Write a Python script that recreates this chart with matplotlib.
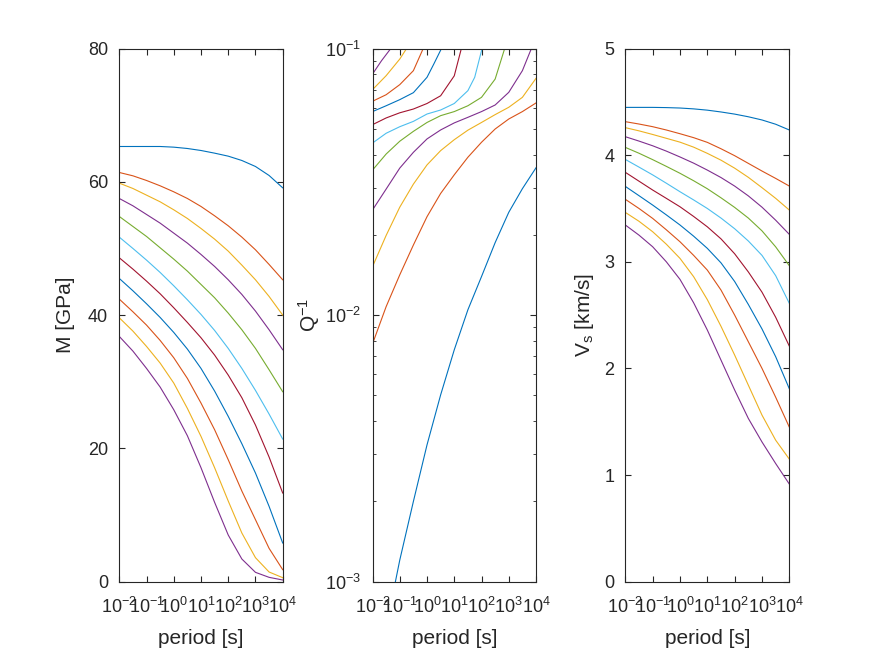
import numpy as np
import matplotlib
matplotlib.use("Agg")
import matplotlib.pyplot as plt

plt.rcParams["font.family"] = ["Liberation Sans", "DejaVu Sans"]
plt.rcParams["mathtext.fontset"] = "custom"
plt.rcParams["mathtext.rm"] = "Liberation Sans"
plt.rcParams["mathtext.it"] = "Liberation Sans:italic"
plt.rcParams["mathtext.bf"] = "Liberation Sans:bold"
plt.rcParams["mathtext.default"] = "regular"
plt.rcParams["axes.unicode_minus"] = False

# log10 of the period [s] at which the M and Vs curves were read
LOG_PERIOD = [-2.0, -1.5, -1.0, -0.5, 0.0, 0.5, 1.0, 1.5, 2.0, 2.5, 3.0, 3.5, 4.0]

# modulus [GPa], one row per curve (top to bottom)
MODULUS_GPA = [
    [65.3, 65.3, 65.3, 65.3, 65.2, 65.0, 64.7, 64.3, 63.85, 63.2, 62.3, 60.95, 59.1],
    [61.4, 60.9, 60.2, 59.4, 58.5, 57.5, 56.3, 54.9, 53.4, 51.7, 49.8, 47.6, 45.3],
    [59.8, 59.0, 58.0, 57.0, 55.8, 54.5, 53.0, 51.4, 49.6, 47.5, 45.3, 42.8, 40.0],
    [57.5, 56.4, 55.1, 53.8, 52.3, 50.8, 49.1, 47.3, 45.3, 43.1, 40.6, 37.8, 34.8],
    [54.8, 53.3, 51.8, 50.1, 48.4, 46.6, 44.6, 42.6, 40.3, 37.8, 35.0, 31.8, 28.5],
    [51.7, 50.0, 48.25, 46.4, 44.4, 42.3, 40.1, 37.7, 35.0, 32.0, 28.7, 25.15, 21.4],
    [48.6, 46.9, 45.1, 43.2, 41.1, 38.9, 36.6, 34.0, 31.0, 27.6, 23.5, 18.7, 13.3],
    [45.5, 43.65, 41.7, 39.65, 37.4, 34.9, 32.0, 28.6, 24.8, 20.7, 16.3, 11.3, 5.8],
    [42.4, 40.5, 38.5, 36.2, 33.6, 30.5, 26.8, 22.8, 18.3, 13.6, 9.3, 5.0, 1.8],
    [39.6, 37.6, 35.3, 32.8, 29.8, 26.0, 21.8, 17.1, 12.1, 7.3, 3.6, 1.45, 0.6],
    [36.8, 34.6, 32.0, 29.2, 25.8, 21.9, 17.1, 11.9, 7.0, 3.4, 1.4, 0.65, 0.25],
]

# shear velocity [km/s], same rows
VS_KMS = [
    [4.448, 4.448, 4.448, 4.446, 4.442, 4.434, 4.422, 4.405, 4.385, 4.36, 4.33, 4.29, 4.236],
    [4.314, 4.292, 4.267, 4.236, 4.201, 4.164, 4.12, 4.06, 3.995, 3.923, 3.851, 3.782, 3.71],
    [4.258, 4.228, 4.194, 4.158, 4.122, 4.075, 4.017, 3.953, 3.878, 3.792, 3.695, 3.595, 3.485],
    [4.173, 4.132, 4.088, 4.038, 3.983, 3.925, 3.86, 3.79, 3.71, 3.618, 3.512, 3.39, 3.257],
    [4.073, 4.018, 3.958, 3.895, 3.83, 3.76, 3.685, 3.6, 3.51, 3.41, 3.29, 3.14, 2.963],
    [3.96, 3.888, 3.815, 3.737, 3.657, 3.58, 3.5, 3.41, 3.31, 3.195, 3.06, 2.87, 2.61],
    [3.839, 3.756, 3.673, 3.595, 3.516, 3.425, 3.328, 3.215, 3.075, 2.905, 2.715, 2.48, 2.209],
    [3.707, 3.62, 3.532, 3.44, 3.345, 3.24, 3.126, 2.99, 2.815, 2.6, 2.37, 2.11, 1.809],
    [3.586, 3.50, 3.407, 3.30, 3.188, 3.06, 2.922, 2.735, 2.50, 2.25, 2.0, 1.73, 1.449],
    [3.463, 3.38, 3.282, 3.165, 3.032, 2.86, 2.645, 2.395, 2.125, 1.843, 1.562, 1.327, 1.149],
    [3.345, 3.25, 3.141, 3.0, 2.835, 2.615, 2.36, 2.078, 1.797, 1.531, 1.31, 1.108, 0.915],
]

# attenuation: each curve read up to where it leaves the axes
Q_LOG_PERIOD = [
    [-1.16, -1.0, -0.5, 0.0, 0.5, 1.0, 1.5, 2.0, 2.5, 3.0, 3.5, 4.0],
    [-2.0, -1.5, -1.0, -0.5, 0.0, 0.5, 1.0, 1.5, 2.0, 2.5, 3.0, 3.5, 4.0],
    [-2.0, -1.5, -1.0, -0.5, 0.0, 0.5, 1.0, 1.5, 2.0, 2.5, 3.0, 3.5, 4.0],
    [-2.0, -1.5, -1.0, -0.5, 0.0, 0.5, 1.0, 1.5, 2.0, 2.5, 3.0, 3.5, 3.83],
    [-2.0, -1.5, -1.0, -0.5, 0.0, 0.5, 1.0, 1.5, 2.0, 2.5, 2.85],
    [-2.0, -1.5, -1.0, -0.5, 0.0, 0.5, 1.0, 1.5, 1.75, 2.02],
    [-2.0, -1.5, -1.0, -0.5, 0.0, 0.5, 1.0, 1.26],
    [-2.0, -1.5, -1.0, -0.5, 0.0, 0.25, 0.53],
    [-2.0, -1.5, -1.0, -0.5, -0.14],
    [-2.0, -1.5, -1.0, -0.75],
    [-2.0, -1.67, -1.33],
]
Q_INV = [
    [0.001, 0.001205, 0.002, 0.00326, 0.00502, 0.00741, 0.01047, 0.01395, 0.0187, 0.0243, 0.0298, 0.0357],
    [0.0078, 0.01076, 0.01416, 0.01832, 0.0234, 0.0286, 0.0336, 0.0391, 0.0445, 0.0499, 0.0544, 0.058, 0.0625],
    [0.0152, 0.0199, 0.0254, 0.031, 0.0366, 0.0414, 0.0455, 0.0494, 0.0528, 0.0565, 0.0602, 0.0656, 0.0773],
    [0.0248, 0.0297, 0.0356, 0.0408, 0.0458, 0.0495, 0.0526, 0.0552, 0.058, 0.0614, 0.0685, 0.0826, 0.1],
    [0.035, 0.0402, 0.0449, 0.0489, 0.0528, 0.056, 0.058, 0.061, 0.0656, 0.0768, 0.1],
    [0.0442, 0.0481, 0.0509, 0.0533, 0.0568, 0.0588, 0.0622, 0.0695, 0.078, 0.1],
    [0.0518, 0.0549, 0.0574, 0.0593, 0.0622, 0.0665, 0.079, 0.1],
    [0.058, 0.061, 0.0643, 0.0683, 0.078, 0.0875, 0.1],
    [0.0634, 0.0671, 0.0732, 0.0826, 0.1],
    [0.0701, 0.0791, 0.0913, 0.1],
    [0.0802, 0.090, 0.1],
]

# Octave default line colour order
COLORS = [
    (0.000, 0.447, 0.741),
    (0.850, 0.325, 0.098),
    (0.929, 0.694, 0.125),
    (0.494, 0.184, 0.556),
    (0.466, 0.674, 0.188),
    (0.301, 0.745, 0.933),
    (0.635, 0.078, 0.184),
]
AX_COLOR = "#262626"

period = 10.0 ** np.array(LOG_PERIOD)

fig = plt.figure(figsize=(8.72, 6.54), dpi=100)
ax_m = fig.add_axes([0.1368, 0.1106, 0.1874, 0.8152])
ax_q = fig.add_axes([0.4272, 0.1106, 0.1875, 0.8152])
ax_v = fig.add_axes([0.7171, 0.1106, 0.1881, 0.8152])

for i, row in enumerate(MODULUS_GPA):
    ax_m.plot(period, row, color=COLORS[i % 7], lw=0.8)
for i, (lp, q) in enumerate(zip(Q_LOG_PERIOD, Q_INV)):
    ax_q.plot(10.0 ** np.array(lp), q, color=COLORS[i % 7], lw=0.8)
for i, row in enumerate(VS_KMS):
    ax_v.plot(period, row, color=COLORS[i % 7], lw=0.8)

ax_m.set_ylim(0, 80)
ax_m.set_yticks([0, 20, 40, 60, 80])
ax_q.set_yscale("log")
ax_q.set_ylim(1e-3, 1e-1)
ax_v.set_ylim(0, 5)
ax_v.set_yticks([0, 1, 2, 3, 4, 5])

for ax in (ax_m, ax_q, ax_v):
    ax.set_xscale("log")
    ax.set_xlim(1e-2, 1e4)
    ax.set_xticks(10.0 ** np.arange(-2, 5))
    ax.tick_params(which="both", direction="in", top=True, right=True,
                   colors=AX_COLOR, labelsize=13)
    ax.tick_params(which="major", length=4, width=0.8)
    ax.tick_params(which="minor", length=2, width=0.6)
    ax.tick_params(axis="x", pad=11)
    ax.tick_params(axis="y", pad=8)
    for sp in ax.spines.values():
        sp.set_color(AX_COLOR)
        sp.set_linewidth(0.8)
    ax.set_xlabel("period [s]", fontsize=15, color=AX_COLOR)
    ax.xaxis.set_label_coords(0.5, -0.088)

ax_m.set_ylabel("M [GPa]", fontsize=15, color=AX_COLOR)
ax_m.yaxis.set_label_coords(-0.271, 0.5)
ax_q.set_ylabel(r"$Q^{-1}$", fontsize=15, color=AX_COLOR)
ax_q.yaxis.set_label_coords(-0.31, 0.5)
ax_v.set_ylabel(r"$V_s$ [km/s]", fontsize=15, color=AX_COLOR)
ax_v.yaxis.set_label_coords(-0.179, 0.5)

fig.savefig("out.png", dpi=100)
